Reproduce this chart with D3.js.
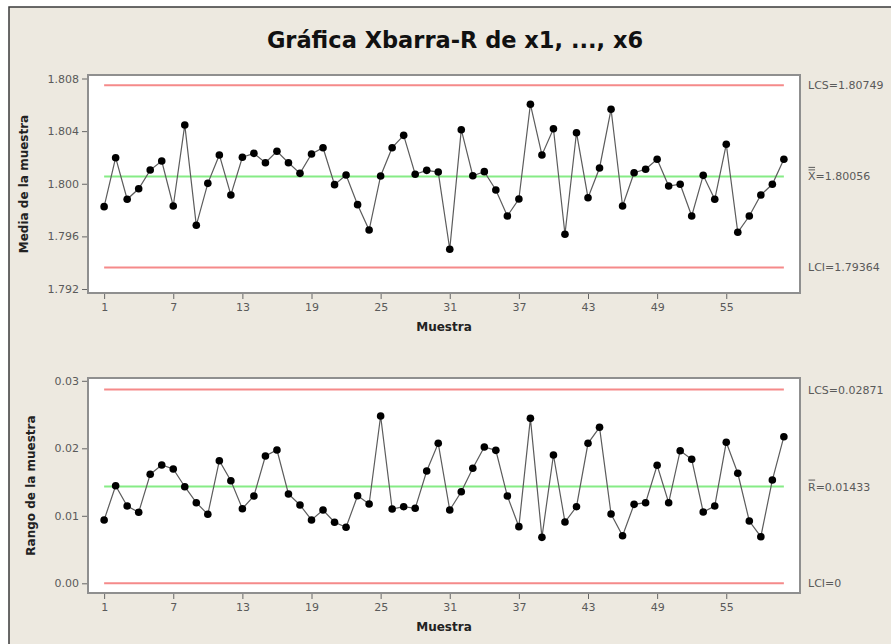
<!DOCTYPE html>
<html>
<head>
<meta charset="utf-8">
<script src="https://cdn.jsdelivr.net/npm/d3@7"></script>
<style>
  body { margin: 0; background: #fff; }
  text { font-family: "DejaVu Sans", sans-serif; }
</style>
</head>
<body>
<div id="chart"></div>
<script>
// Sample numbers 1..60
const samples = d3.range(1, 61);

// Sample means (Xbar)
const means = [
  1.79826, 1.80198, 1.79882, 1.79962, 1.80104, 1.80173, 1.79831, 1.80447, 1.79684, 1.80003,
  1.80219, 1.79915, 1.80201, 1.80231, 1.80160, 1.80247, 1.80160, 1.80079, 1.80226, 1.80274,
  1.79993, 1.80067, 1.79841, 1.79648, 1.80059, 1.80274, 1.80368, 1.80072, 1.80102, 1.80089,
  1.79502, 1.80411, 1.80061, 1.80092, 1.79953, 1.79755, 1.79884, 1.80604, 1.80219, 1.80418,
  1.79616, 1.80388, 1.79894, 1.80120, 1.80566, 1.79831, 1.80084, 1.80110, 1.80186, 1.79983,
  1.79996, 1.79755, 1.80064, 1.79882, 1.80300, 1.79631, 1.79755, 1.79915, 1.79996, 1.80186
];

// Sample ranges (R)
const ranges = [
  0.00938, 0.01446, 0.01145, 0.01052, 0.01615, 0.01753, 0.01693, 0.01431, 0.01194, 0.01022,
  0.01816, 0.01520, 0.01105, 0.01293, 0.01886, 0.01975, 0.01323, 0.01160, 0.00938, 0.01086,
  0.00904, 0.00830, 0.01298, 0.01175, 0.02479, 0.01101, 0.01135, 0.01111, 0.01664, 0.02074,
  0.01086, 0.01357, 0.01704, 0.02019, 0.01970, 0.01293, 0.00839, 0.02444, 0.00681, 0.01901,
  0.00908, 0.01135, 0.02074, 0.02311, 0.01027, 0.00705, 0.01170, 0.01194, 0.01748, 0.01194,
  0.01964, 0.01837, 0.01056, 0.01145, 0.02089, 0.01630, 0.00923, 0.00690, 0.01530, 0.02172
];

const xTicks = [1, 7, 13, 19, 25, 31, 37, 43, 49, 55];
const meanTicks = [1.792, 1.796, 1.800, 1.804, 1.808];
const rangeTicks = [0.00, 0.01, 0.02, 0.03];

const meanLimits = { ucl: 1.80749, cl: 1.80056, lcl: 1.79364 };
const rangeLimits = { ucl: 0.02871, cl: 0.01433, lcl: 0 };

const width = 891, height = 644;

const svg = d3.select('#chart').append('svg')
  .attr('width', width)
  .attr('height', height);

svg.append('rect')
  .attr('x', 9).attr('y', 7)
  .attr('width', width + 10).attr('height', height + 10)
  .attr('fill', '#ede9e0')
  .attr('stroke', '#3a3a3a')
  .attr('stroke-width', 1.5);

svg.append('text')
  .attr('x', 455).attr('y', 48)
  .attr('text-anchor', 'middle')
  .style('font-weight', 'bold')
  .style('font-size', '22.5px')
  .attr('fill', '#111')
  .text('Gráfica Xbarra-R de x1, ..., x6');

const x = d3.scaleLinear().domain([-0.4, 61.4]).range([88, 800]);

function panel(opts) {
  const g = svg.append('g');
  const y = opts.y;
  const top = opts.top, bottom = opts.bottom;

  g.append('rect')
    .attr('x', x.range()[0]).attr('y', top)
    .attr('width', x.range()[1] - x.range()[0])
    .attr('height', bottom - top)
    .attr('fill', '#fff')
    .attr('stroke', '#8f8f8f')
    .attr('stroke-width', 2);

  // y axis
  const yAxis = g.append('g')
    .attr('transform', 'translate(' + (x.range()[0] - 1) + ',0)')
    .call(d3.axisLeft(y).tickValues(opts.ticks).tickFormat(opts.fmt).tickSize(5).tickPadding(3));
  yAxis.select('.domain').remove();

  // x axis
  const xAxis = g.append('g')
    .attr('transform', 'translate(0,' + (bottom + 1) + ')')
    .call(d3.axisBottom(x).tickValues(xTicks).tickFormat(d3.format('d')).tickSize(5).tickPadding(4));
  xAxis.select('.domain').remove();

  [yAxis, xAxis].forEach(function(a) {
    a.selectAll('line').attr('stroke', '#666');
    a.selectAll('text')
      .style('font-size', '11px')
      .style('font-family', '"DejaVu Sans", sans-serif')
      .attr('fill', '#5a5a5a');
  });

  g.append('text')
    .attr('x', (x.range()[0] + x.range()[1]) / 2)
    .attr('y', bottom + 38)
    .attr('text-anchor', 'middle')
    .style('font-weight', 'bold')
    .style('font-size', '12px')
    .attr('fill', '#222')
    .text('Muestra');

  g.append('text')
    .attr('transform', 'translate(' + opts.titleX + ',' + ((top + bottom) / 2) + ') rotate(-90)')
    .attr('text-anchor', 'middle')
    .style('font-weight', 'bold')
    .style('font-size', '12px')
    .attr('fill', '#222')
    .text(opts.title);

  // control limits
  const lims = [
    { v: opts.limits.ucl, c: '#f58a8a' },
    { v: opts.limits.cl, c: '#86ec86' },
    { v: opts.limits.lcl, c: '#f58a8a' }
  ];
  g.selectAll('.lim').data(lims).enter().append('line')
    .attr('x1', x(1)).attr('x2', x(60))
    .attr('y1', function(d) { return y(d.v); })
    .attr('y2', function(d) { return y(d.v); })
    .attr('stroke', function(d) { return d.c; })
    .attr('stroke-width', 2);

  const line = d3.line()
    .x(function(d, i) { return x(samples[i]); })
    .y(function(d) { return y(d); });

  g.append('path')
    .datum(opts.values)
    .attr('d', line)
    .attr('fill', 'none')
    .attr('stroke', '#5c5c5c')
    .attr('stroke-width', 1.2);

  g.selectAll('.pt').data(opts.values).enter().append('circle')
    .attr('cx', function(d, i) { return x(samples[i]); })
    .attr('cy', function(d) { return y(d); })
    .attr('r', 3.8)
    .attr('fill', '#000');

  // right-hand labels
  const labels = [
    { v: opts.limits.ucl, t: 'LCS=' + opts.limitText[0], bars: 0 },
    { v: opts.limits.cl, t: opts.clSymbol + '=' + opts.limitText[1], bars: opts.clBars },
    { v: opts.limits.lcl, t: 'LCI=' + opts.limitText[2], bars: 0 }
  ];
  labels.forEach(function(d) {
    const t = g.append('text')
      .attr('x', 808)
      .attr('y', y(d.v) + 4)
      .style('font-size', '11px')
      .attr('fill', '#5a5a5a')
      .text(d.t);
    if (d.bars) {
      const w = t.node().getSubStringLength(0, 1);
      for (let b = 0; b < d.bars; b++) {
        g.append('line')
          .attr('x1', 808.5).attr('x2', 808 + w - 0.5)
          .attr('y1', y(d.v) - 6.5 - b * 2.5)
          .attr('y2', y(d.v) - 6.5 - b * 2.5)
          .attr('stroke', '#5a5a5a')
          .attr('stroke-width', 1);
      }
    }
  });
}

panel({
  y: d3.scaleLinear().domain([1.792, 1.808]).range([289, 78.5]),
  top: 75, bottom: 293,
  ticks: meanTicks,
  fmt: d3.format('.3f'),
  values: means,
  limits: meanLimits,
  limitText: ['1.80749', '1.80056', '1.79364'],
  clSymbol: 'X', clBars: 2,
  title: 'Media de la muestra',
  titleX: 28
});

panel({
  y: d3.scaleLinear().domain([0, 0.03]).range([583.3, 380.8]),
  top: 378, bottom: 593,
  ticks: rangeTicks,
  fmt: d3.format('.2f'),
  values: ranges,
  limits: rangeLimits,
  limitText: ['0.02871', '0.01433', '0'],
  clSymbol: 'R', clBars: 1,
  title: 'Rango de la muestra',
  titleX: 35
});
</script>
</body>
</html>
